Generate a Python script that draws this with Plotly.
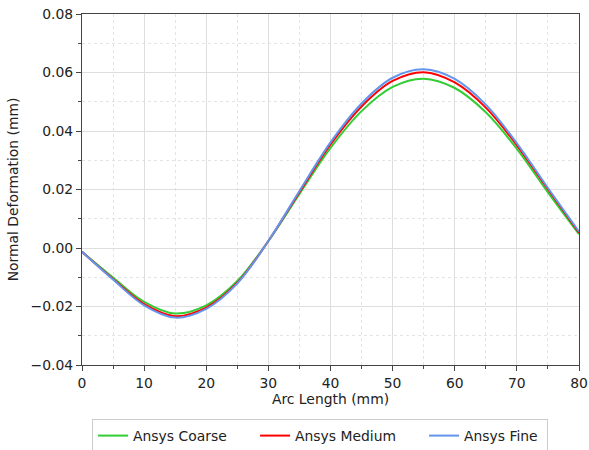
import plotly.graph_objects as go

arc_length = [0, 5, 10, 15, 20, 25, 30, 35, 40, 45, 50, 55, 60, 65, 70, 75, 80]
coarse = [-0.0013, -0.0101, -0.0184, -0.0224, -0.0196, -0.0113, 0.0024, 0.0185, 0.0342, 0.0468,
          0.0551, 0.0579, 0.0547, 0.0464, 0.0339, 0.0190, 0.0047]
medium = [-0.0013, -0.0106, -0.0192, -0.0233, -0.0204, -0.0119, 0.0024, 0.0191, 0.0354, 0.0484,
          0.0571, 0.0601, 0.0566, 0.0480, 0.0351, 0.0201, 0.0052]
fine = [-0.0013, -0.0108, -0.0196, -0.0238, -0.0208, -0.0121, 0.0024, 0.0195, 0.0361, 0.0494,
        0.0582, 0.0611, 0.0578, 0.0490, 0.0358, 0.0205, 0.0056]

series = [
    ("Ansys Coarse", coarse, "limegreen", 117),
    ("Ansys Medium", medium, "red", 124),
    ("Ansys Fine", fine, "cornflowerblue", 78),
]

fig = go.Figure()
for name, vals, color, lw in series:
    fig.add_trace(go.Scatter(
        x=arc_length, y=vals, name=name, mode="lines",
        line=dict(color=color, width=2, shape="spline", smoothing=1.0),
        legendwidth=lw,
    ))

font = dict(family="DejaVu Sans", size=13.9, color="#222")
axis_common = dict(
    showline=True, linecolor="#444", linewidth=1.2, mirror=True,
    ticks="outside", ticklen=5, tickwidth=1, tickcolor="#444",
    showgrid=True, gridcolor="#dedede", gridwidth=1, zeroline=False,
    tickfont=font,
)

fig.update_layout(
    width=589, height=450,
    margin=dict(l=82, r=10, t=14, b=85, autoexpand=False),
    paper_bgcolor="white", plot_bgcolor="white",
    font=font,
    xaxis=dict(
        range=[0, 80], dtick=10, tick0=0,
        title=dict(text="Arc Length (mm)", font=font, standoff=4),
        minor=dict(dtick=5, ticks="outside", ticklen=3, tickcolor="#444",
                   showgrid=True, gridcolor="#e4e4e4", griddash="dot", gridwidth=1),
        **axis_common,
    ),
    yaxis=dict(
        range=[-0.04, 0.08], dtick=0.02, tick0=0, tickformat=".2f",
        title=dict(text="Normal Deformation (mm)", font=font, standoff=8),
        minor=dict(dtick=0.01, ticks="outside", ticklen=3, tickcolor="#444",
                   showgrid=True, gridcolor="#e4e4e4", griddash="dot", gridwidth=1),
        **axis_common,
    ),
    legend=dict(
        orientation="h", x=0.479, xanchor="center", y=-0.154, yanchor="top",
        bordercolor="#cccccc", borderwidth=1, bgcolor="white",
        font=font, itemwidth=30,
    ),
    showlegend=True,
)

fig.write_html("out.html")
